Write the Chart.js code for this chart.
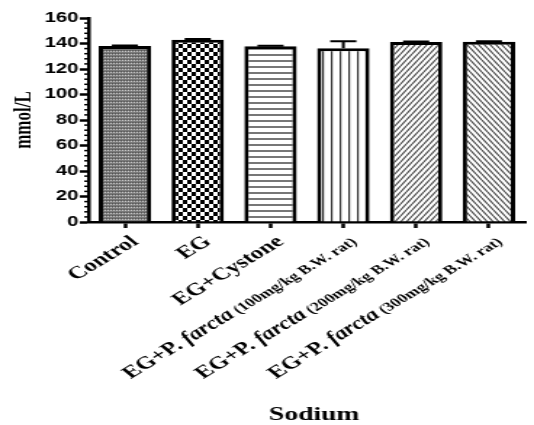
<!DOCTYPE html>
<html>
<head>
<meta charset="utf-8">
<script src="https://cdn.jsdelivr.net/npm/chart.js@4.4.0/dist/chart.umd.min.js"></script>
<style>
    html, body { margin: 0; padding: 0; background: #fff; overflow: hidden; }
    /* the original figure is stretched horizontally, so the chart is drawn narrow and scaled */
    #wrap { width: 368px; height: 425px; transform: scaleX(1.4511); transform-origin: 0 0; }
</style>
</head>
<body>
<div id="wrap"><canvas id="barChart" width="368" height="425"></canvas></div>
<script>
const groups = [
    'Control',
    'EG',
    'EG+Cystone',
    'EG+P. farcta (100mg/kg B.W. rat)',
    'EG+P. farcta (200mg/kg B.W. rat)',
    'EG+P. farcta (300mg/kg B.W. rat)'
];
const sodium = [138, 143, 137.8, 136.2, 141.2, 141.4];
const sodiumSem = [0.4, 0.6, 0.5, 5.5, 0.4, 0.4];
const xTitle = 'Sodium';
const yTitle = 'mmol/L';
const yMax = 160;
const yStep = 20;
const yMinorStep = 4;

const canvas = document.getElementById('barChart');
const mainCtx = canvas.getContext('2d');

// Motifs de remplissage des barres
function makePattern(w, h, draw) {
    const c = document.createElement('canvas');
    c.width = w;
    c.height = h;
    const ctx = c.getContext('2d');
    ctx.fillStyle = '#fff';
    ctx.fillRect(0, 0, w, h);
    draw(ctx, w, h);
    return mainCtx.createPattern(c, 'repeat');
}

const patterns = [
    makePattern(2, 3, (ctx) => {
        ctx.fillStyle = '#7a7a7a';
        ctx.fillRect(0, 0, 2, 3);
        ctx.fillStyle = '#c8c8c8';
        ctx.fillRect(0, 0, 1, 1);
        ctx.fillStyle = '#555';
        ctx.fillRect(1, 2, 1, 1);
    }),
    makePattern(6, 8, (ctx) => {
        ctx.fillStyle = '#000';
        ctx.fillRect(0, 0, 3, 4);
        ctx.fillRect(3, 4, 3, 4);
    }),
    makePattern(4, 6, (ctx) => {
        ctx.fillStyle = '#777';
        ctx.fillRect(0, 0, 4, 2);
    }),
    makePattern(6, 4, (ctx) => {
        ctx.fillStyle = '#333';
        ctx.fillRect(0, 0, 1.2, 4);
    }),
    makePattern(4, 6, (ctx) => {
        ctx.strokeStyle = '#444';
        ctx.lineWidth = 1.1;
        for (let k = -1; k <= 1; k++) {
            ctx.beginPath();
            ctx.moveTo(k * 4, 6);
            ctx.lineTo(k * 4 + 4, 0);
            ctx.stroke();
        }
    }),
    makePattern(4, 6, (ctx) => {
        ctx.strokeStyle = '#444';
        ctx.lineWidth = 1.1;
        for (let k = -1; k <= 1; k++) {
            ctx.beginPath();
            ctx.moveTo(k * 4, 0);
            ctx.lineTo(k * 4 + 4, 6);
            ctx.stroke();
        }
    })
];

// Barres d'erreur (vers le haut seulement)
const errorBars = {
    id: 'errorBars',
    afterDatasetsDraw(chart) {
        const ctx = chart.ctx;
        const y = chart.scales.y;
        const meta = chart.getDatasetMeta(0);
        ctx.save();
        ctx.strokeStyle = '#000';
        ctx.lineWidth = 2;
        meta.data.forEach((bar, i) => {
            const base = y.getPixelForValue(sodium[i]);
            const top = y.getPixelForValue(sodium[i] + sodiumSem[i]);
            ctx.beginPath();
            ctx.moveTo(bar.x, base);
            ctx.lineTo(bar.x, top);
            ctx.moveTo(bar.x - 9, top);
            ctx.lineTo(bar.x + 9, top);
            ctx.stroke();
        });
        ctx.restore();
    }
};

// Petites graduations de l'axe y
const minorTicks = {
    id: 'minorTicks',
    afterDraw(chart) {
        const ctx = chart.ctx;
        const y = chart.scales.y;
        ctx.save();
        ctx.strokeStyle = '#000';
        ctx.lineWidth = 1.5;
        for (let v = yMinorStep; v < yMax; v += yMinorStep) {
            if (v % yStep === 0) continue;
            const py = y.getPixelForValue(v);
            ctx.beginPath();
            ctx.moveTo(y.right - 3, py);
            ctx.lineTo(y.right, py);
            ctx.stroke();
        }
        ctx.restore();
    }
};

// Etiquettes des groupes, avec "farcta" en italique et la dose en petit
const groupLabels = {
    id: 'groupLabels',
    afterDraw(chart) {
        const ctx = chart.ctx;
        const x = chart.scales.x;
        const boldFont = 'bold 17.5px "Liberation Serif"';
        const italicFont = 'italic bold 17.5px "Liberation Serif"';
        const smallFont = 'bold 12.5px "Liberation Serif"';
        ctx.save();
        ctx.fillStyle = '#000';
        ctx.textBaseline = 'alphabetic';
        ctx.textAlign = 'left';
        chart.data.labels.forEach((label, i) => {
            const m = label.match(/^(EG\+P\. )(farcta)( \(.*\))$/);
            const parts = m ? [[m[1], boldFont], [m[2], italicFont], [m[3], smallFont]] : [[label, boldFont]];
            let total = 0;
            parts.forEach(p => {
                ctx.font = p[1];
                total += ctx.measureText(p[0]).width;
            });
            ctx.save();
            ctx.translate(x.getPixelForTick(i) + 10, x.top + 21);
            ctx.rotate(-41 * Math.PI / 180);
            let pos = -total;
            parts.forEach(p => {
                ctx.font = p[1];
                ctx.fillText(p[0], pos, 0);
                pos += ctx.measureText(p[0]).width;
            });
            ctx.restore();
        });

        // titre de l'axe x
        ctx.font = 'bold 19px "Liberation Serif"';
        ctx.textAlign = 'center';
        ctx.fillText(xTitle, (x.left + x.right) / 2 + 5, 420);
        ctx.restore();
    }
};

const barChartInstance = new Chart(canvas, {
    type: 'bar',
    data: {
        labels: groups,
        datasets: [{
            label: xTitle,
            data: sodium,
            backgroundColor: patterns,
            borderColor: '#000',
            borderWidth: 3,
            barPercentage: 0.72,
            categoryPercentage: 1
        }]
    },
    options: {
        responsive: false,
        animation: false,
        layout: {
            padding: { top: 18, right: 6, left: 0, bottom: 0 }
        },
        plugins: {
            legend: { display: false },
            tooltip: { enabled: false }
        },
        scales: {
            x: {
                offset: true,
                grid: {
                    drawOnChartArea: false,
                    offset: false,
                    tickLength: 6,
                    tickWidth: 2.5,
                    color: '#000'
                },
                border: { color: '#000', width: 2.5 },
                ticks: { display: false },
                afterFit: (scale) => { scale.height = 203; }
            },
            y: {
                min: 0,
                max: yMax,
                ticks: {
                    stepSize: yStep,
                    color: '#000',
                    padding: 1,
                    font: { family: '"Liberation Sans"', size: 14, weight: 'bold' }
                },
                grid: {
                    drawOnChartArea: false,
                    tickLength: 6,
                    tickWidth: 2.5,
                    color: '#000'
                },
                border: { color: '#000', width: 2.5 },
                title: {
                    display: true,
                    text: yTitle,
                    color: '#000',
                    font: { family: '"Liberation Serif"', size: 17, weight: 'bold' },
                    padding: { top: 6, bottom: 0 }
                },
                afterFit: (scale) => { scale.width = 61; }
            }
        }
    },
    plugins: [errorBars, minorTicks, groupLabels]
});
</script>
</body>
</html>
